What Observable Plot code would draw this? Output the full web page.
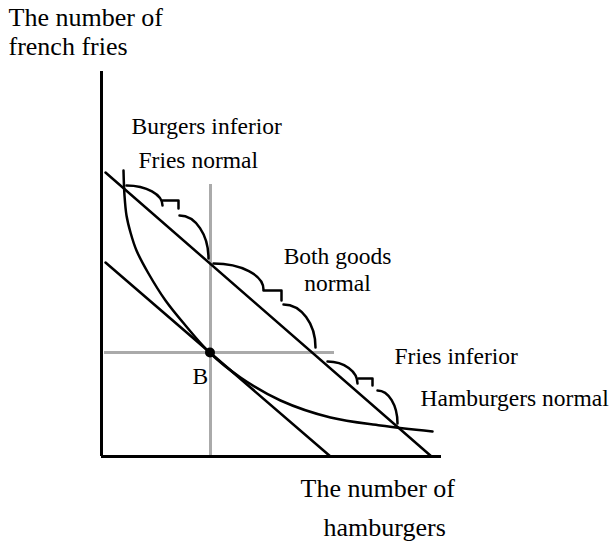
<!DOCTYPE html>
<html>
<head>
<meta charset="utf-8">
<script src="https://cdn.jsdelivr.net/npm/d3@7"></script>
<script src="https://cdn.jsdelivr.net/npm/@observablehq/plot@0.6"></script>
<style>
  html, body { margin: 0; padding: 0; background: #fff; }
  svg { display: block; }
</style>
</head>
<body>
<script>
// Quantities (arbitrary units): x = hamburgers, y = french fries
const outerBudget = [[4, 284], [330, 0]];
const innerBudget = [[4, 194], [229, 0]];
const indifference = [
  [22, 286], [23, 261], [25, 241], [29, 224], [35, 206], [47, 183], [64, 156],
  [84, 131], [108, 104], [139, 79], [179, 56], [229, 39], [279, 31], [331, 25]
];
const pointB = [[108.5, 104]];
const dottedV = [[109, 0], [109, 271]];
const dottedH = [[4, 104], [232, 104]];

// Curly braces along the outer budget line: two quarter arcs + a small step each
const braceArcs = [
  [[25, 271], [61, 251]], [[78, 241], [107, 198]],
  [[112, 193], [162, 167]], [[182, 152], [214, 109]],
  [[226, 95], [256, 73]], [[276, 66], [296, 33]]
];
const braceSteps = [
  [[61, 256], [77, 256], [77, 248]],
  [[162, 166], [180, 166], [180, 156]],
  [[257, 78], [271, 78], [271, 71]]
];

// Labels (left-aligned)
const noteText = ["Burgers inferior", "Fries normal", "Fries inferior", "Hamburgers normal", "B"];
const noteX = [30, 37, 293, 319, 91];
const noteY = [323, 289, 93, 51, 73];
// Labels (centred)
const centerText = ["Both goods", "normal"];
const centerX = [236, 236];
const centerY = [193, 166];
// Axis titles
const axisText = ["The number of\nfrench fries", "The number of", "hamburgers"];
const axisX = [-93, 199, 222];
const axisY = [402, -40, -79];

const axisX0 = [0, 340];
const axisY0 = [0, 385];

function quarterCurve(context) {
  let pts = [];
  return {
    areaStart() {}, areaEnd() {},
    lineStart() { pts = []; },
    point(x, y) { pts.push([+x, +y]); },
    lineEnd() {
      if (pts.length < 2) return;
      const [x0, y0] = pts[0], [x1, y1] = pts[pts.length - 1];
      const k = 0.5523;
      context.moveTo(x0, y0);
      context.bezierCurveTo(x0 + k * (x1 - x0), y0, x1, y1 - k * (y1 - y0), x1, y1);
    }
  };
}

const arcs = braceArcs.flatMap((seg, i) => seg.map(([x, y]) => ({id: i, x, y})));
const steps = braceSteps.flatMap((seg, i) => seg.map(([x, y]) => ({id: i, x, y})));
const notes = noteText.map((t, i) => ({t, x: noteX[i], y: noteY[i]}));
const centers = centerText.map((t, i) => ({t, x: centerX[i], y: centerY[i]}));
const axisLabels = axisText.map((t, i) => ({t, x: axisX[i], y: axisY[i]}));
const px = d => d[0], py = d => d[1];

const chart = Plot.plot({
  width: 613,
  height: 544,
  marginLeft: 101,
  marginRight: 172,
  marginTop: 71,
  marginBottom: 88,
  x: {domain: axisX0, axis: null},
  y: {domain: axisY0, axis: null},
  style: {background: "#fff", fontFamily: "'Liberation Serif', 'Times New Roman', serif", color: "#000"},
  marks: [
    Plot.line(dottedV, {x: px, y: py, stroke: "#aaa", strokeWidth: 3, strokeDasharray: "1,1", shapeRendering: "crispEdges"}),
    Plot.line(dottedH, {x: px, y: py, stroke: "#aaa", strokeWidth: 3, strokeDasharray: "1,1", shapeRendering: "crispEdges"}),
    Plot.ruleX([axisX0[0]], {y1: axisY0[0], y2: axisY0[1], stroke: "#000", strokeWidth: 3}),
    Plot.ruleY([axisY0[0]], {x1: axisX0[0], x2: axisX0[1], stroke: "#000", strokeWidth: 3}),
    Plot.line(outerBudget, {x: px, y: py, stroke: "#000", strokeWidth: 2.5}),
    Plot.line(innerBudget, {x: px, y: py, stroke: "#000", strokeWidth: 2.5}),
    Plot.line(indifference, {x: px, y: py, stroke: "#000", strokeWidth: 2.5, curve: "catmull-rom"}),
    Plot.line(arcs, {x: "x", y: "y", z: "id", stroke: "#000", strokeWidth: 2.5, curve: quarterCurve}),
    Plot.line(steps, {x: "x", y: "y", z: "id", stroke: "#000", strokeWidth: 2.5}),
    Plot.dot(pointB, {x: px, y: py, r: 5, fill: "#000"}),
    Plot.text(notes, {x: "x", y: "y", text: "t", textAnchor: "start", lineAnchor: "bottom", fontSize: 23.5, fill: "#000"}),
    Plot.text(centers, {x: "x", y: "y", text: "t", textAnchor: "middle", lineAnchor: "bottom", fontSize: 23.5, fill: "#000"}),
    Plot.text(axisLabels, {x: "x", y: "y", text: "t", textAnchor: "start", lineAnchor: "bottom", lineHeight: 1.1, fontSize: 26, fill: "#000"})
  ]
});
document.body.appendChild(chart);
</script>
</body>
</html>
